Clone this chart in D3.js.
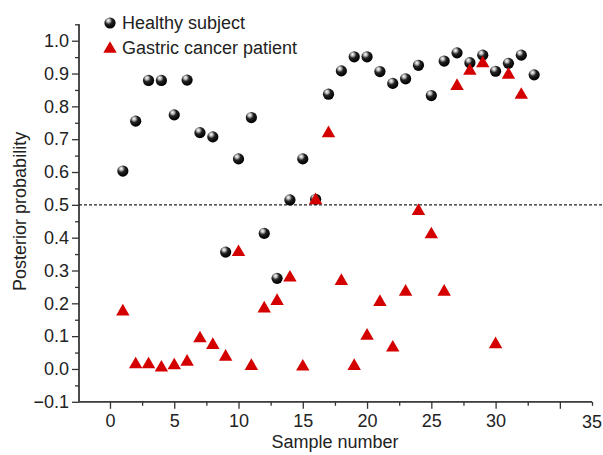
<!DOCTYPE html>
<html lang="en">
<head>
<meta charset="utf-8">
<script src="https://d3js.org/d3.v7.min.js"></script>
<style>
  body { margin: 0; background: #fff; }
  text { font-family: "Liberation Sans", Arial, sans-serif; fill: #222; }
</style>
</head>
<body>
<script>
// Data
const healthyX = d3.range(1, 34);
const healthyY = [0.603, 0.755, 0.879, 0.879, 0.774, 0.880, 0.720, 0.707, 0.356, 0.640,
                  0.766, 0.413, 0.276, 0.515, 0.640, 0.517, 0.837, 0.908, 0.951, 0.951,
                  0.906, 0.870, 0.884, 0.925, 0.833, 0.938, 0.963, 0.933, 0.956, 0.907,
                  0.931, 0.956, 0.896];
const cancerX = d3.range(1, 33);
const cancerY = [0.178, 0.017, 0.017, 0.007, 0.014, 0.025, 0.096, 0.076, 0.040, 0.359,
                 0.012, 0.187, 0.210, 0.281, 0.010, 0.517, 0.721, 0.271, 0.012, 0.104,
                 0.207, 0.068, 0.238, 0.484, 0.413, 0.238, 0.865, 0.911, 0.934, 0.078,
                 0.899, 0.838];
const xMajor = [0, 5, 10, 15, 20, 25, 30, 35];
const xMinor = [2.5, 7.5, 12.5, 17.5, 22.5, 27.5, 32.5, 37.5];
const yMajor = [-0.1, 0, 0.1, 0.2, 0.3, 0.4, 0.5, 0.6, 0.7, 0.8, 0.9, 1.0];
const yMinor = [-0.05, 0.05, 0.15, 0.25, 0.35, 0.45, 0.55, 0.65, 0.75, 0.85, 0.95, 1.05];
const legendNames = ["Healthy subject", "Gastric cancer patient"];
const threshold = 0.5;

const W = 603, H = 455;
const svg = d3.select("body").append("svg").attr("width", W).attr("height", H);

// Scales
const x = d3.scaleLinear().domain([-2.41, 37.5]).range([79, 592]);
const y = d3.scaleLinear().domain([-0.1, 1.05]).range([401.8, 24.3]);

// Ball gradient
const defs = svg.append("defs");
const grad = defs.append("radialGradient").attr("id", "ball")
  .attr("cx", "38%").attr("cy", "32%").attr("r", "65%").attr("fx", "35%").attr("fy", "28%");
grad.selectAll("stop")
  .data([{o: "0%", c: "#ffffff"}, {o: "22%", c: "#bbbbbb"}, {o: "50%", c: "#222222"}, {o: "100%", c: "#000000"}])
  .enter().append("stop").attr("offset", d => d.o).attr("stop-color", d => d.c);

// Y axis
const yAxisG = svg.append("g").attr("transform", "translate(79,0)");
yAxisG.call(d3.axisLeft(y).tickValues(yMajor).tickSize(7).tickPadding(3)
  .tickFormat(d => d3.format(".1f")(d).replace("-", "\u2212")));
yAxisG.append("g").call(d3.axisLeft(y).tickValues(yMinor).tickSize(4).tickFormat(""));
yAxisG.selectAll(".domain").attr("d", `M0,${y(1.05)}V${y(-0.1)}`);
yAxisG.selectAll(".tick text").style("font-size", "18px").attr("fill", "#222");

// X axis
const xAxisG = svg.append("g").attr("transform", `translate(0,${y(-0.1)})`);
xAxisG.call(d3.axisBottom(x).tickValues(xMajor).tickSize(7).tickPadding(5)
  .tickFormat(d => d === 35 ? "" : d));
xAxisG.append("g").call(d3.axisBottom(x).tickValues(xMinor).tickSize(4).tickFormat(""));
xAxisG.selectAll(".domain").attr("d", `M79,0H${x(37.5)}`);
xAxisG.append("text").attr("x", x(37.5)).attr("y", 26).attr("text-anchor", "middle")
  .style("font-size", "18px").text("35");
xAxisG.selectAll(".tick text").style("font-size", "18px").attr("fill", "#222");

svg.selectAll(".domain, .tick line").attr("stroke", "#333").attr("stroke-width", 1.3);

// Axis titles
svg.append("text").attr("x", 335).attr("y", 448).attr("text-anchor", "middle")
  .style("font-size", "18px").text("Sample number");
svg.append("text").attr("transform", `translate(26,${y(0.48)}) rotate(-90)`)
  .attr("text-anchor", "middle").style("font-size", "18px").text("Posterior probability");

// Threshold line
svg.append("line").attr("x1", 79).attr("x2", W).attr("y1", y(threshold)).attr("y2", y(threshold))
  .attr("stroke", "#222").attr("stroke-width", 1.2).attr("stroke-dasharray", "3,2");

// Healthy subjects
const healthy = healthyX.map((d, i) => ({x: d, y: healthyY[i]}));
svg.append("g").selectAll("circle").data(healthy).enter().append("circle")
  .attr("cx", d => x(d.x)).attr("cy", d => y(d.y)).attr("r", 5.6)
  .attr("fill", "url(#ball)");

// Gastric cancer patients
const tri = d3.symbol().type(d3.symbolTriangle).size(78);
const cancer = cancerX.map((d, i) => ({x: d, y: cancerY[i]}));
svg.append("g").selectAll("path").data(cancer).enter().append("path")
  .attr("d", tri)
  .attr("transform", d => `translate(${x(d.x)},${y(d.y) + 1})`)
  .attr("fill", "#d40000");

// Legend
const leg = svg.append("g");
leg.append("circle").attr("cx", 110).attr("cy", 23).attr("r", 5.6).attr("fill", "url(#ball)");
leg.append("path").attr("d", tri).attr("transform", "translate(110,49)").attr("fill", "#d40000");
leg.selectAll("text").data(legendNames).enter().append("text")
  .attr("x", 122).attr("y", (d, i) => 29 + i * 25)
  .style("font-size", "18px").text(d => d);
</script>
</body>
</html>
